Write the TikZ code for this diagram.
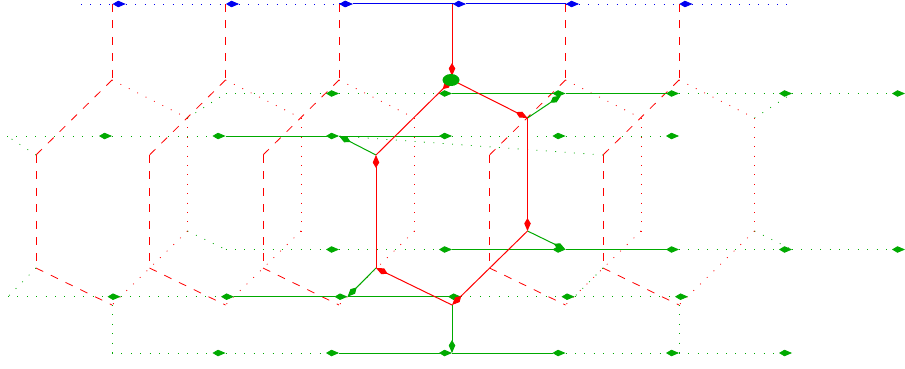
\documentclass[tikz,border=0pt]{standalone}
\usetikzlibrary{arrows.meta,shapes.geometric}
\definecolor{gr}{RGB}{0,170,0}
\definecolor{rd}{RGB}{255,0,0}
\definecolor{bl}{RGB}{0,0,240}
\tikzset{
  kt/.tip={Kite[length=13pt,width=6.5pt,inset=5.5pt]},
  dotp/.style={line width=0.8pt,dash pattern=on 0.9pt off 8.5pt},
  dashp/.style={line width=0.8pt,dash pattern=on 8pt off 8.4pt},
  solidp/.style={line width=1pt},
  gd/.style={gr,dotp},
  gs/.style={gr,solidp},
  rdot/.style={rd,dotp},
  rdash/.style={rd,dashp},
  rs/.style={rd,solidp},
  bd/.style={bl,dotp},
  bs/.style={bl,solidp},
  hd/.style={-{kt}}
}
\begin{document}
\begin{tikzpicture}[x=1pt,y=-1pt]
\useasboundingbox (0,0) rectangle (905,369);
% lattice vertices
\foreach \i/\x in {1/112,2/225.5,3/339,4/452,5/565.5,6/679}{
  \coordinate (U\i) at (\x,4);
  \coordinate (T\i) at (\x,80);
  \coordinate (UL\i) at (\x-76,155);
  \coordinate (LL\i) at (\x-76,268);
  \coordinate (B\i) at (\x,305);
  \coordinate (UR\i) at (\x+75.5,118);
  \coordinate (LR\i) at (\x+75.5,231);
  \coordinate (G\i) at (\x,353);
}
% row vertices
\foreach \i/\x in {1/125.7,2/239,3/352.6,4/466,5/579,6/692.4}{\coordinate (Bl\i) at (\x,4);}
\foreach \i/\x in {0/225.5,1/339,2/452,3/565.5,4/679,5/792,6/905}{
  \coordinate (A\i) at (\x,93.5);
  \coordinate (D\i) at (\x,249.5);}
\foreach \i/\x in {0/7,1/112,2/225.5,3/339,4/452,5/565.5,6/679}{\coordinate (C\i) at (\x,136);}
\foreach \i/\x in {0/8,1/120.5,2/234,3/347.5,4/461,5/574.5,6/688}{\coordinate (E\i) at (\x,296.7);}
\foreach \i/\x in {0/112,1/225.5,2/339,3/452,4/565.5,5/679,6/792}{\coordinate (F\i) at (\x,353);}
\coordinate (BlS) at (81,4);
\coordinate (BlE) at (791,4);
% red dashed and dotted cells
\foreach \i in {1,2,3,5,6}{
  \draw[rdash] (U\i) -- (T\i);
  \draw[rdash] (T\i) -- (UL\i);
  \draw[rdash] (UL\i) -- (LL\i);
  \draw[rdash] (LL\i) -- (B\i);
  \draw[rdot] (T\i) -- (UR\i);
  \draw[rdot] (UR\i) -- (LR\i);
  \draw[rdot] (LR\i) -- (B\i);
}
% green dotted links
\draw[gd] (UR1) -- (A0);
\draw[gd] (UR6) -- (A5);
\draw[gd] (UL1) -- (C0);
\draw[gd] (UL6) -- (C3);
\draw[gd] (LR1) -- (D0);
\draw[gd] (LR6) -- (D5);
\draw[gd] (LL1) -- (E0);
\draw[gd] (LL6) -- (E5);
\draw[gd] (B1) -- (F0);
\draw[gd] (B6) -- (F5);
% green rows
\draw[gd,hd] (A0) -- (A1);
\draw[gd,hd] (A1) -- (A2);
\draw[gs,hd] (A2) -- (A3);
\draw[gs,hd] (A3) -- (A4);
\draw[gd,hd] (A4) -- (A5);
\draw[gd,hd] (A5) -- (A6);
\draw[gd,hd] (C0) -- (C1);
\draw[gd,hd] (C1) -- (C2);
\draw[gs,hd] (C2) -- (C3);
\draw[gs,hd] (C3) -- (C4);
\draw[gd,hd] (C4) -- (C5);
\draw[gd,hd] (C5) -- (C6);
\draw[gd,hd] (D0) -- (D1);
\draw[gd,hd] (D1) -- (D2);
\draw[gs,hd] (D2) -- (D3);
\draw[gs,hd] (D3) -- (D4);
\draw[gd,hd] (D4) -- (D5);
\draw[gd,hd] (D5) -- (D6);
\draw[gd,hd] (E0) -- (E1);
\draw[gd,hd] (E1) -- (E2);
\draw[gs,hd] (E2) -- (E3);
\draw[gs,hd] (E3) -- (E4);
\draw[gd,hd] (E4) -- (E5);
\draw[gd,hd] (E5) -- (E6);
\draw[gd,hd] (F0) -- (F1);
\draw[gd,hd] (F1) -- (F2);
\draw[gs,hd] (F2) -- (F3);
\draw[gs,hd] (F3) -- (F4);
\draw[gd,hd] (F4) -- (F5);
\draw[gd,hd] (F5) -- (F6);
% blue row
\draw[bd,hd] (BlS) -- (Bl1);
\draw[bd,hd] (Bl1) -- (Bl2);
\draw[bd,hd] (Bl2) -- (Bl3);
\draw[bs,hd] (U3) -- (Bl3);
\draw[bs,hd] (Bl3) -- (Bl4);
\draw[bs] (Bl4) -- (U5);
\draw[bd,hd] (U5) -- (Bl5);
\draw[bd,hd] (Bl5) -- (Bl6);
\draw[bd] (Bl6) -- (BlE);
% central green links
\coordinate (gA) at (561,95.5);
\draw[gs,hd] (UR4) -- (gA);
\draw[gs,hd] (LR4) -- (D3);
\draw[gs,hd] (UL4) -- (C3);
\draw[gs,hd] (LL4) -- (E3);
\draw[gs,hd] (B4) -- (G4);
% central red hexagon
\coordinate (Ttop) at (452,76);
\draw[rs,hd] (U4) -- (Ttop);
\draw[rs,hd] (UL4) -- (T4);
\draw[rs,hd] (T4) -- (UR4);
\draw[rs,hd] (UR4) -- (LR4);
\draw[rs,hd] (LR4) -- (B4);
\draw[rs,hd] (B4) -- (LL4);
\draw[rs,hd] (LL4) -- (UL4);
\node[ellipse,fill=gr,minimum width=17pt,minimum height=12pt,inner sep=0pt] (centre) at (451,80) {};
\end{tikzpicture}
\end{document}
